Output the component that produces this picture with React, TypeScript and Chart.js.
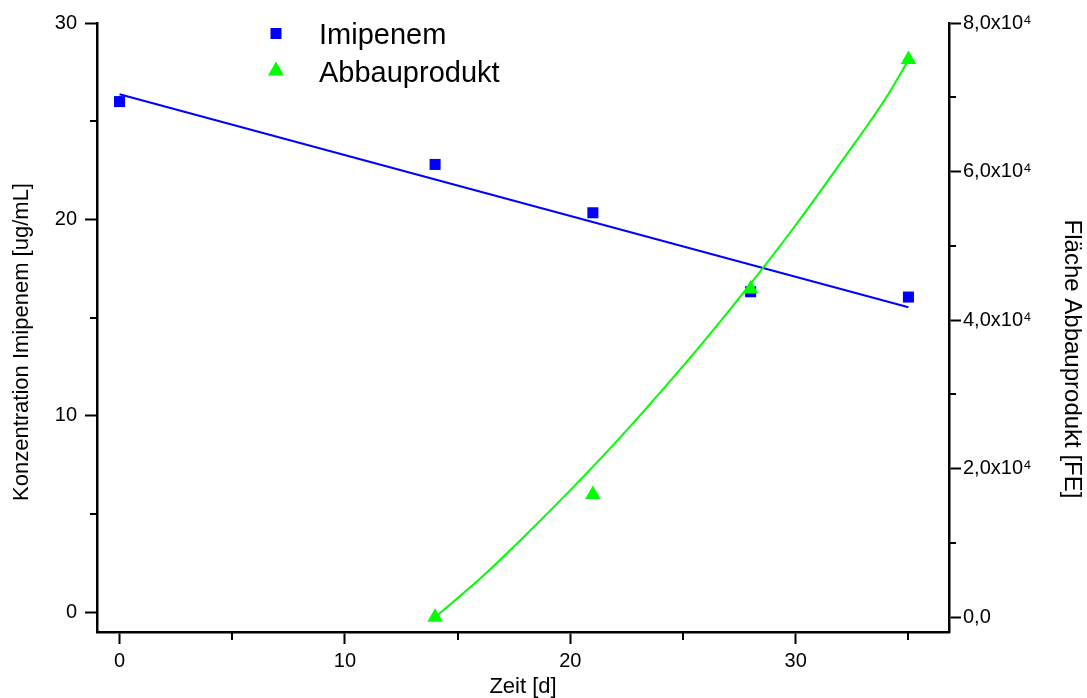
import React, { useEffect, useRef } from 'react';
import { Chart, registerables } from 'chart.js';

Chart.register(...registerables);

// ---- data ----
const imipenemDays = [0, 14, 21, 28, 35];
const imipenemValues = [26.0, 22.8, 20.34, 16.32, 16.05];
const imipenemFitDays = [0, 35];
const imipenemFitValues = [26.37, 15.53];

const productDays = [14, 21, 28, 35];
const productValues = [0, 16500, 44200, 75100];
const productFitDays = [14, 16, 18, 20, 22, 24, 26, 28, 30, 32, 34, 35];
const productFitValues = [0, 5200, 11000, 17100, 23500, 30300, 37400, 44900, 52800, 61200, 69900, 75000];

const xMajorTicks = [0, 10, 20, 30];
const xMinorTicks = [5, 15, 25, 35];
const yMajorTicks = [0, 10, 20, 30];
const yMinorTicks = [5, 15, 25];
const y2MajorTicks = [0, 20000, 40000, 60000, 80000];
const y2MinorTicks = [10000, 30000, 50000, 70000];

const seriesNames = ['Imipenem', 'Abbauprodukt'];
const xTitle = 'Zeit [d]';
const yTitle = 'Konzentration Imipenem [ug/mL]';
const y2Title = 'Fläche Abbauprodukt [FE]';

const BLUE = '#0000ff';
const GREEN = '#00ff00';
const FONT = '"Liberation Sans", Arial, Helvetica, sans-serif';

const toPoints = (xs: number[], ys: number[]) => xs.map((x, i) => ({ x, y: ys[i] }));

const formatY2 = (v: number) => {
  if (v === 0) return '0,0';
  return (v / 10000).toFixed(1).replace('.', ',') + 'x10\u2074';
};

const minorTicksPlugin = {
  id: 'minorTicks',
  afterDraw(chart: any) {
    const { ctx } = chart;
    const sx = chart.scales.x;
    const sy = chart.scales.y;
    const sy2 = chart.scales.y2;
    ctx.save();
    ctx.strokeStyle = '#000';
    ctx.lineWidth = 2;
    ctx.beginPath();
    xMinorTicks.forEach((v) => {
      const p = Math.round(sx.getPixelForValue(v));
      ctx.moveTo(p, sx.top);
      ctx.lineTo(p, sx.top + 8);
    });
    yMinorTicks.forEach((v) => {
      const p = Math.round(sy.getPixelForValue(v));
      ctx.moveTo(sy.right, p);
      ctx.lineTo(sy.right - 7, p);
    });
    y2MinorTicks.forEach((v) => {
      const p = Math.round(sy2.getPixelForValue(v));
      ctx.moveTo(sy2.left, p);
      ctx.lineTo(sy2.left + 7, p);
    });
    ctx.stroke();
    ctx.restore();
  },
};

const sideTitlesPlugin = {
  id: 'sideTitles',
  afterDraw(chart: any) {
    const { ctx } = chart;
    ctx.save();
    ctx.fillStyle = '#000';
    ctx.textAlign = 'center';
    ctx.textBaseline = 'middle';
    ctx.save();
    ctx.font = `22px ${FONT}`;
    ctx.translate(22, 342);
    ctx.rotate(-Math.PI / 2);
    ctx.fillText(yTitle, 0, 0);
    ctx.restore();
    ctx.save();
    ctx.font = `24px ${FONT}`;
    ctx.translate(1072, 359);
    ctx.rotate(Math.PI / 2);
    ctx.fillText(y2Title, 0, 0);
    ctx.restore();
    ctx.restore();
  },
};

const legendPlugin = {
  id: 'customLegend',
  afterDraw(chart: any) {
    const { ctx } = chart;
    ctx.save();
    ctx.fillStyle = BLUE;
    ctx.fillRect(276 - 5.5, 33.5 - 5.5, 11, 11);
    ctx.fillStyle = GREEN;
    const tx = 276, ty = 68.5;
    ctx.beginPath();
    ctx.moveTo(tx, ty - 7);
    ctx.lineTo(tx + 8, ty + 7);
    ctx.lineTo(tx - 8, ty + 7);
    ctx.closePath();
    ctx.fill();
    ctx.fillStyle = '#000';
    ctx.font = `29px ${FONT}`;
    ctx.textAlign = 'left';
    ctx.textBaseline = 'alphabetic';
    ctx.fillText(seriesNames[0], 319, 44);
    ctx.fillText(seriesNames[1], 319, 81.5);
    ctx.restore();
  },
};

export default function App() {
  const canvasRef = useRef<HTMLCanvasElement | null>(null);

  useEffect(() => {
    const canvas = canvasRef.current;
    if (!canvas) return;
    const axisCommon = {
      grid: {
        display: true,
        drawOnChartArea: false,
        drawTicks: true,
        tickLength: 12,
        tickColor: '#000',
        tickWidth: 2,
        color: '#000',
      },
      border: { display: true, color: '#000', width: 2.5 },
    };
    const chart = new Chart(canvas, {
      type: 'scatter',
      data: {
        datasets: [
          {
            label: seriesNames[1],
            data: toPoints(productDays, productValues),
            yAxisID: 'y2',
            pointStyle: 'triangle',
            pointRadius: 9,
            pointBackgroundColor: GREEN,
            pointBorderColor: GREEN,
            pointBorderWidth: 0,
            showLine: false,
            order: 0,
          },
          {
            label: seriesNames[1] + ' Fit',
            data: toPoints(productFitDays, productFitValues),
            yAxisID: 'y2',
            showLine: true,
            borderColor: GREEN,
            borderWidth: 2,
            pointRadius: 0,
            cubicInterpolationMode: 'monotone',
            order: 1,
          },
          {
            label: seriesNames[0],
            data: toPoints(imipenemDays, imipenemValues),
            yAxisID: 'y',
            pointStyle: 'rect',
            pointRadius: 7.8,
            pointBackgroundColor: BLUE,
            pointBorderColor: BLUE,
            pointBorderWidth: 0,
            showLine: false,
            order: 2,
          },
          {
            label: seriesNames[0] + ' Fit',
            data: toPoints(imipenemFitDays, imipenemFitValues),
            yAxisID: 'y',
            showLine: true,
            borderColor: BLUE,
            borderWidth: 2,
            pointRadius: 0,
            order: 3,
          },
        ],
      } as any,
      options: {
        responsive: false,
        animation: false,
        events: [],
        layout: { padding: { top: 23, left: 0, right: 0, bottom: 0 } },
        plugins: {
          legend: { display: false },
          tooltip: { enabled: false },
          title: { display: false },
        },
        scales: {
          x: {
            type: 'linear',
            position: 'bottom',
            min: -1,
            max: 36.8,
            ...axisCommon,
            afterBuildTicks: (s: any) => {
              s.ticks = xMajorTicks.map((value) => ({ value }));
            },
            afterFit: (s: any) => {
              s.height = 66;
            },
            ticks: {
              color: '#000',
              padding: 5,
              font: { family: FONT, size: 20 },
              maxRotation: 0,
              callback: (v: any) => String(v),
            },
            title: {
              display: true,
              text: xTitle,
              color: '#000',
              font: { family: FONT, size: 22, lineHeight: 1 },
              padding: { top: 0, bottom: 0 },
            },
          },
          y: {
            type: 'linear',
            position: 'left',
            min: -1,
            max: 30,
            ...axisCommon,
            afterBuildTicks: (s: any) => {
              s.ticks = yMajorTicks.map((value) => ({ value }));
            },
            afterFit: (s: any) => {
              s.width = 97;
            },
            ticks: {
              color: '#000',
              padding: 8,
              font: { family: FONT, size: 20 },
              callback: (v: any) => String(v),
            },
          },
          y2: {
            type: 'linear',
            position: 'right',
            min: -2000,
            max: 80000,
            ...axisCommon,
            afterBuildTicks: (s: any) => {
              s.ticks = y2MajorTicks.map((value) => ({ value }));
            },
            afterFit: (s: any) => {
              s.width = 138;
            },
            ticks: {
              color: '#000',
              padding: 2,
              font: { family: FONT, size: 20 },
              callback: (v: any) => formatY2(Number(v)),
            },
          },
        },
      } as any,
      plugins: [minorTicksPlugin, sideTitlesPlugin, legendPlugin],
    });
    return () => chart.destroy();
  }, []);

  return (
    <div style={{ position: 'absolute', left: 0, top: 0, width: 1087, height: 698, background: '#fff' }}>
      <canvas ref={canvasRef} width={1087} height={698} style={{ display: 'block' }} />
    </div>
  );
}
